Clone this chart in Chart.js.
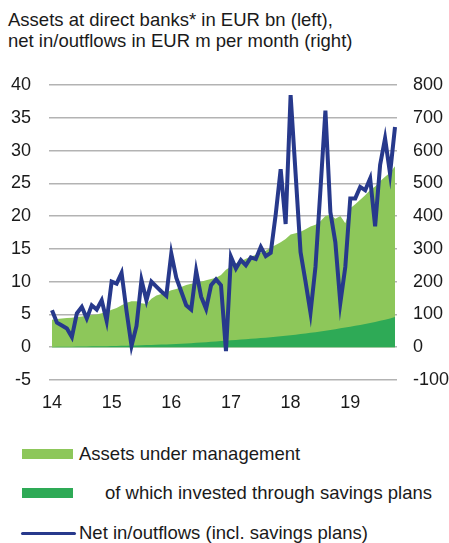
<!DOCTYPE html>
<html>
<head>
<meta charset="utf-8">
<script src="https://cdn.jsdelivr.net/npm/chart.js@4.4.1/dist/chart.umd.min.js"></script>
<style>
  html, body { margin: 0; padding: 0; background: #fff; }
  body { width: 449px; height: 543px; position: relative; overflow: hidden;
         font-family: "Liberation Sans", Arial, sans-serif; color: #1a1a1a; }
  #title { position: absolute; left: 8px; top: 9px; font-size: 18.5px; line-height: 21px; white-space: nowrap; }
  #wrap { position: absolute; left: 0; top: 0; width: 449px; height: 430px; }
  .lg { position: absolute; font-size: 18.5px; line-height: 20px; white-space: nowrap; }
  .sw { position: absolute; }
</style>
</head>
<body>
<div id="title">Assets at direct banks* in EUR bn (left),<br>net in/outflows in EUR m per month (right)</div>
<div id="wrap"><canvas id="c" width="449" height="430"></canvas></div>
<div id="legend"></div>
<script>
// ---- DATA ----
const months = [
 'Jan 14','Feb 14','Mar 14','Apr 14','May 14','Jun 14','Jul 14','Aug 14','Sep 14','Oct 14','Nov 14','Dec 14',
 'Jan 15','Feb 15','Mar 15','Apr 15','May 15','Jun 15','Jul 15','Aug 15','Sep 15','Oct 15','Nov 15','Dec 15',
 'Jan 16','Feb 16','Mar 16','Apr 16','May 16','Jun 16','Jul 16','Aug 16','Sep 16','Oct 16','Nov 16','Dec 16',
 'Jan 17','Feb 17','Mar 17','Apr 17','May 17','Jun 17','Jul 17','Aug 17','Sep 17','Oct 17','Nov 17','Dec 17',
 'Jan 18','Feb 18','Mar 18','Apr 18','May 18','Jun 18','Jul 18','Aug 18','Sep 18','Oct 18','Nov 18','Dec 18',
 'Jan 19','Feb 19','Mar 19','Apr 19','May 19','Jun 19','Jul 19','Aug 19','Sep 19','Oct 19'
];
const yearTickLabels = ['14','15','16','17','18','19'];
const yearTickMonths = ['Jan 14','Jan 15','Jan 16','Jan 17','Jan 18','Jan 19'];

const assetsUnderManagement = [
 4.2,4.3,4.4,4.45,4.5,4.6,4.7,4.8,4.9,5.0,5.2,5.4,
 5.7,6.0,6.4,6.8,7.0,7.0,6.7,6.6,7.4,7.9,8.1,8.4,
 8.7,8.9,9.2,9.5,9.7,9.8,10.0,10.2,10.4,10.6,11.0,11.8,
 12.3,12.8,13.1,13.5,13.8,14.1,14.4,14.7,15.2,15.6,16.0,16.5,
 17.2,17.4,17.6,18.0,18.4,18.7,19.2,20.0,20.2,19.6,20.0,18.9,
 21.2,21.8,22.5,23.2,24.0,24.5,25.3,26.0,26.6,27.6
];
const savingsPlans = [
 0.05,0.06,0.07,0.08,0.09,0.10,0.11,0.12,0.13,0.14,0.15,0.16,
 0.18,0.20,0.22,0.24,0.26,0.28,0.30,0.32,0.34,0.37,0.40,0.43,
 0.46,0.50,0.54,0.58,0.62,0.67,0.72,0.77,0.82,0.88,0.94,1.00,
 1.05,1.10,1.16,1.22,1.28,1.34,1.40,1.46,1.52,1.60,1.68,1.76,
 1.83,1.92,2.01,2.10,2.20,2.30,2.40,2.51,2.63,2.76,2.90,3.00,
 3.12,3.26,3.40,3.55,3.70,3.86,4.02,4.20,4.40,4.60
];
const netFlows = [
 113,75,66,57,31,103,123,88,128,115,143,80,
 200,194,227,110,4,65,205,143,200,185,170,157,
 286,212,170,128,115,233,154,117,189,207,189,-12,
 276,240,266,250,274,269,306,278,288,405,543,376,
 769,530,290,200,105,245,480,722,412,320,135,245,
 454,454,489,479,515,369,556,637,530,672
];
const seriesLabels = [
 'Assets under management',
 'of which invested through savings plans',
 'Net in/outflows (incl. savings plans)'
];
const leftTicks = { min: -5, max: 40, step: 5 };
const rightTicks = { min: -100, max: 800, step: 100 };

// ---- STYLE ----
const colLight = '#8DC75A';
const colDark = '#2EAA56';
const colLine = '#27398C';
const font = { family: '"Liberation Sans", Arial, sans-serif', size: 18 };

const pts = arr => arr.map((v, i) => ({ x: i, y: v }));
const yearIdx = yearTickMonths.map(m => months.indexOf(m));

new Chart(document.getElementById('c'), {
  type: 'line',
  data: {
    datasets: [
      { label: seriesLabels[2], data: pts(netFlows), yAxisID: 'y2', borderColor: colLine,
        borderWidth: 4, pointRadius: 0, fill: false, tension: 0, order: 0 },
      { label: seriesLabels[1], data: pts(savingsPlans), yAxisID: 'y', borderWidth: 0,
        backgroundColor: colDark, borderColor: colDark, pointRadius: 0, fill: 'origin', order: 1 },
      { label: seriesLabels[0], data: pts(assetsUnderManagement), yAxisID: 'y', borderWidth: 0,
        backgroundColor: colLight, borderColor: colLight, pointRadius: 0, fill: 'origin', order: 2 }
    ]
  },
  options: {
    responsive: false,
    animation: false,
    layout: { padding: { top: 85, bottom: 20, left: 0, right: 0 } },
    plugins: { legend: { display: false }, tooltip: { enabled: false } },
    scales: {
      x: {
        type: 'linear', min: -0.6, max: months.length - 0.6,
        grid: { display: false, drawTicks: false },
        border: { display: false },
        afterBuildTicks: s => { s.ticks = yearIdx.map(v => ({ value: v })); },
        afterFit: s => { s.height = 30; },
        ticks: { color: '#1a1a1a', font, padding: 12, maxRotation: 0,
                 callback: (v, i) => yearTickLabels[i] }
      },
      y: {
        position: 'left', min: leftTicks.min, max: leftTicks.max,
        grid: { color: '#b3b3b3', lineWidth: 1.5, drawTicks: false },
        border: { display: false },
        afterFit: s => { s.width = 49; },
        ticks: { stepSize: leftTicks.step, color: '#1a1a1a', font, padding: 18 }
      },
      y2: {
        position: 'right', min: rightTicks.min, max: rightTicks.max,
        grid: { display: false, drawTicks: false },
        border: { display: false },
        afterFit: s => { s.width = 52; },
        ticks: { stepSize: rightTicks.step, color: '#1a1a1a', font, padding: 16 }
      }
    }
  }
});

// ---- HTML legend ----
const legendRows = [
  { text: seriesLabels[0], color: colLight, type: 'box', y: 454, textX: 79 },
  { text: seriesLabels[1], color: colDark, type: 'box', y: 493, textX: 105 },
  { text: seriesLabels[2], color: colLine, type: 'line', y: 533, textX: 79 }
];
const lg = document.getElementById('legend');
legendRows.forEach(r => {
  const sw = document.createElement('div');
  sw.className = 'sw';
  sw.style.background = r.color;
  if (r.type === 'box') {
    sw.style.left = '22px'; sw.style.width = '51px'; sw.style.top = (r.y - 5) + 'px'; sw.style.height = '10px';
  } else {
    sw.style.left = '21px'; sw.style.width = '55px'; sw.style.top = (r.y - 1.5) + 'px'; sw.style.height = '3px';
    sw.style.borderRadius = '2px';
  }
  lg.appendChild(sw);
  const t = document.createElement('div');
  t.className = 'lg';
  t.style.left = r.textX + 'px';
  t.style.top = (r.y - 10) + 'px';
  t.textContent = r.text;
  lg.appendChild(t);
});
</script>
</body>
</html>
